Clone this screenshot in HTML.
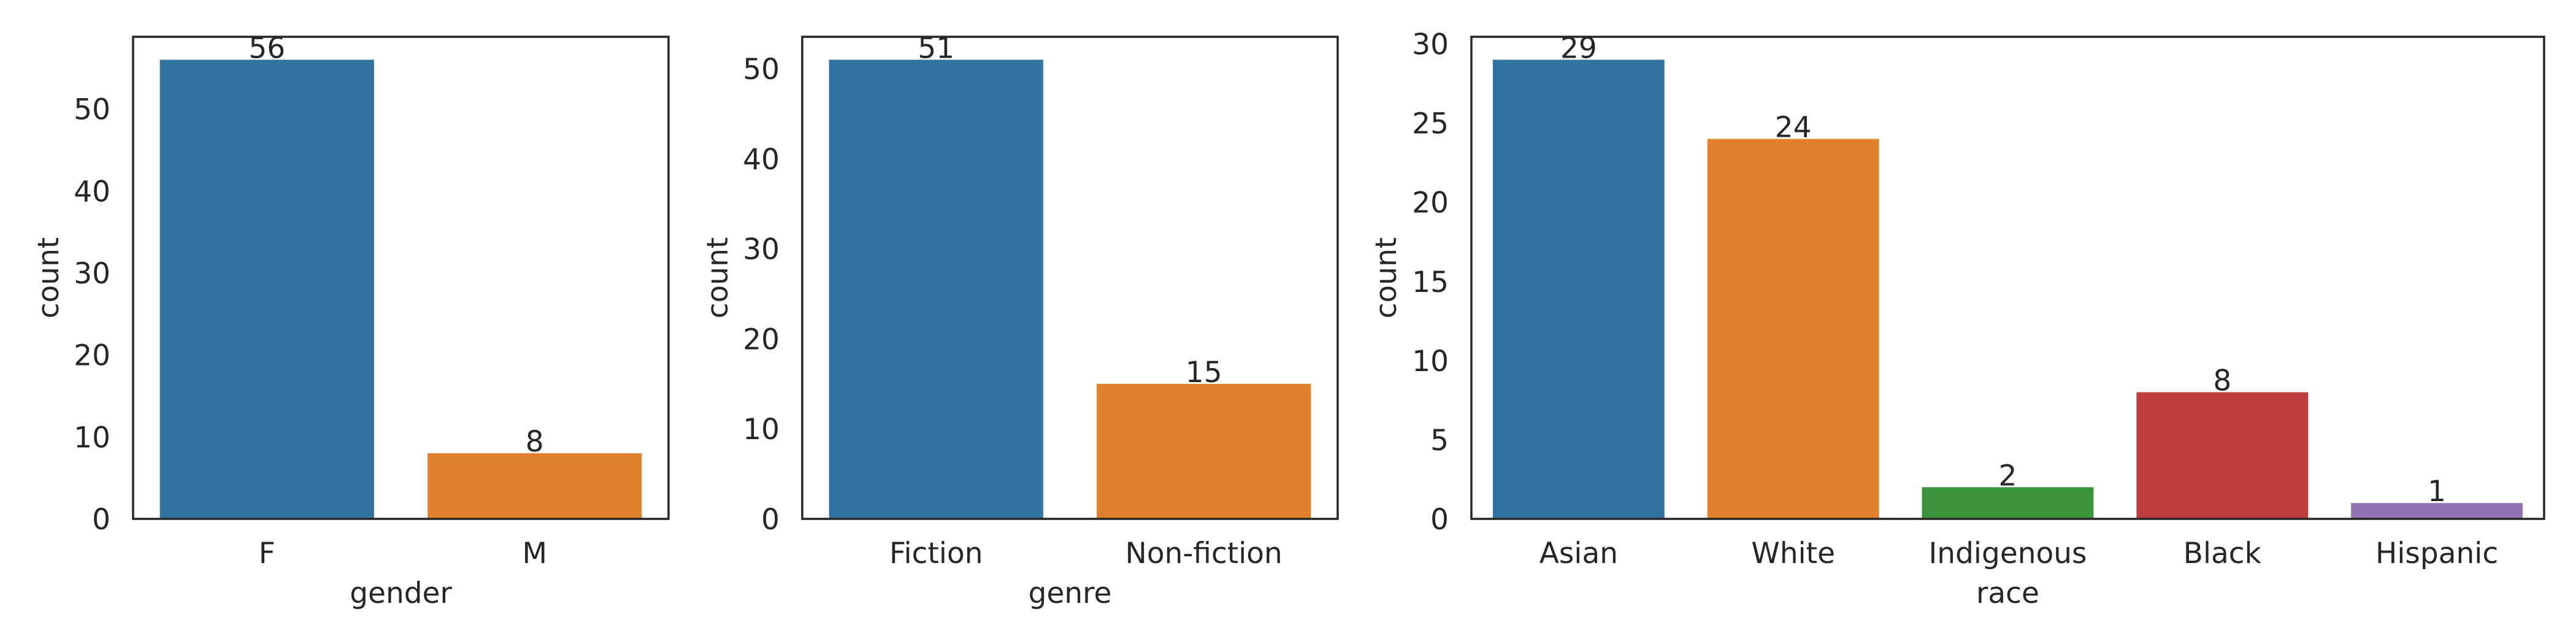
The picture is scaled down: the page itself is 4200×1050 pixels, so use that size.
<!DOCTYPE html>
<html><head><meta charset="utf-8">
<style>
html,body{margin:0;padding:0;background:#fff;}
svg{display:block;}
text{font-family:"DejaVu Sans","Liberation Sans",sans-serif;fill:#262626;}
</style></head>
<body>
<svg id="fig" width="4200" height="1050" viewBox="0 0 4200 1050" xmlns="http://www.w3.org/2000/svg"></svg>
<script>
const genderCats = ["F", "M"];
const genderVals = [56, 8];
const genderTicks = [0, 10, 20, 30, 40, 50];
const genreCats = ["Fiction", "Non-fiction"];
const genreVals = [51, 15];
const genreTicks = [0, 10, 20, 30, 40, 50];
const raceCats = ["Asian", "White", "Indigenous", "Black", "Hispanic"];
const raceVals = [29, 24, 2, 8, 1];
const raceTicks = [0, 5, 10, 15, 20, 25, 30];
const palette = ["#3274a1", "#e1812c", "#3a923a", "#c03d3e", "#9372b2"];

const NS = "http://www.w3.org/2000/svg";
const svg = document.getElementById("fig");
function mk(tag, attrs, parent) {
  const e = document.createElementNS(NS, tag);
  for (const k in attrs) e.setAttribute(k, attrs[k]);
  (parent || svg).appendChild(e);
  return e;
}

function panel(name, left, right, cats, vals, ticks, xlabel, countX) {
  const top = 60, bottom = 846;
  const ymax = Math.max(...vals) * 1.05;
  const y = v => bottom - v / ymax * (bottom - top);
  const band = (right - left) / cats.length;
  const xc = i => left + band * (i + 0.5);
  const g = mk("g", {});
  
  

  vals.forEach((v, i) => {
    const r = mk("rect", {x: xc(i) - band * 0.4, y: y(v), width: band * 0.8, height: bottom - y(v), fill: palette[i % palette.length]}, g);
    
    
    const t = mk("text", {x: xc(i), y: y(v) - 3, "text-anchor": "middle", "font-size": 47}, g);
    t.textContent = v;
    
    
    const c = mk("text", {x: xc(i), y: 918, "text-anchor": "middle", "font-size": 47}, g);
    c.textContent = cats[i];
    
    
  });
  ticks.forEach(tv => {
    const t = mk("text", {x: left - 37, y: y(tv) + 17, "text-anchor": "end", "font-size": 47}, g);
    t.textContent = tv;
    
    
  });
  const frame = mk("rect", {x: left, y: top, width: right - left, height: bottom - top, fill: "none", stroke: "#262626", "stroke-width": 3.5}, g);
  
  
  const xl = mk("text", {x: (left + right) / 2, y: 983, "text-anchor": "middle", "font-size": 47}, g);
  xl.textContent = xlabel;
  
  
  const yl = mk("text", {x: 0, y: 0, "text-anchor": "middle", "font-size": 47, transform: "translate(" + (countX) + "," + (top + bottom) / 2 + ") rotate(-90)"}, g);
  yl.textContent = "count";
  
  
}

panel("gender", 217, 1090, genderCats, genderVals, genderTicks, "gender", 95);
panel("genre", 1308, 2181, genreCats, genreVals, genreTicks, "genre", 1186);
panel("race", 2399, 4148, raceCats, raceVals, raceTicks, "race", 2276);
</script>
</body></html>
